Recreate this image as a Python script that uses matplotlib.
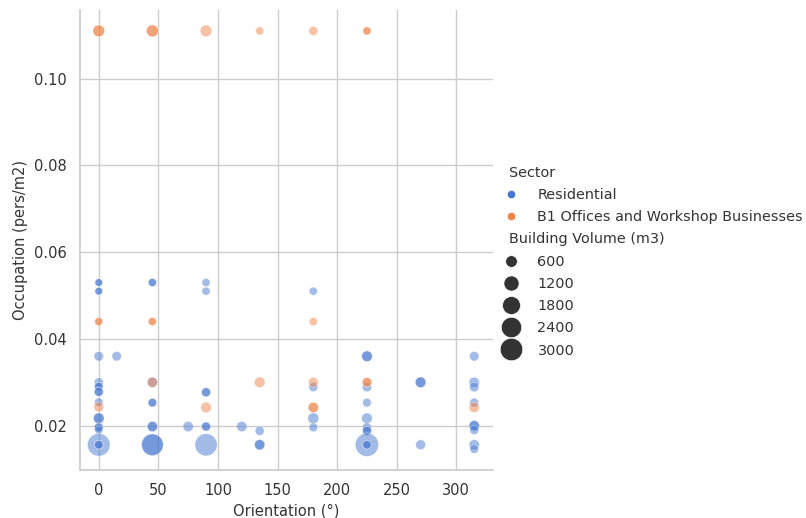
import numpy as np
import pandas as pd
import matplotlib
matplotlib.use("Agg")
import matplotlib.pyplot as plt
import seaborn as sns
from matplotlib.offsetbox import VPacker

# Residential buildings: orientation (deg), occupation (pers/m2), volume (m3)
res_orient = [0, 0, 0, 0, 0, 15, 0, 0, 0, 0, 0, 0, 0, 0, 0, 0, 0, 0, 0, 0,
              45, 45, 45, 45, 45, 45, 45, 45, 45,
              75,
              90, 90, 90, 90, 90, 90, 90,
              120,
              135, 135, 135,
              180, 180, 180, 180,
              225, 225, 225, 225, 225, 225, 225, 225, 225, 225, 225,
              270, 270, 270,
              315, 315, 315, 315, 315, 315, 315, 315, 315]
res_occ = [0.053, 0.053, 0.051, 0.051, 0.036, 0.036, 0.030, 0.029, 0.029, 0.0278, 0.0278,
           0.0254, 0.0217, 0.0217, 0.0196, 0.0196, 0.019, 0.0156, 0.0156, 0.0156,
           0.053, 0.053, 0.030, 0.0253, 0.0253, 0.0198, 0.0198, 0.0156, 0.0156,
           0.0198,
           0.053, 0.051, 0.0277, 0.0277, 0.0198, 0.0198, 0.0156,
           0.0198,
           0.0188, 0.0156, 0.0156,
           0.051, 0.0289, 0.0217, 0.0196,
           0.036, 0.036, 0.0289, 0.0253, 0.0217, 0.0196, 0.0188, 0.0188, 0.0156, 0.0156, 0.0156,
           0.030, 0.030, 0.0156,
           0.036, 0.030, 0.0289, 0.0253, 0.020, 0.020, 0.019, 0.0156, 0.0146]
res_vol = [100, 100, 100, 100, 300, 300, 250, 200, 200, 250, 250,
           200, 450, 450, 250, 250, 150, 3000, 200, 200,
           150, 150, 400, 200, 200, 400, 400, 2800, 2700,
           400,
           150, 150, 250, 250, 250, 250, 2900,
           400,
           250, 400, 400,
           150, 250, 500, 200,
           450, 450, 300, 200, 450, 250, 250, 250, 3200, 200, 200,
           450, 450, 350,
           300, 400, 300, 250, 400, 400, 250, 400, 200]

# B1 Offices and Workshop Businesses
b1_orient = [0, 0, 45, 45, 90, 135, 180, 225, 225,
             0, 0, 45, 45, 180,
             0, 45, 90, 135, 180, 180, 180, 225, 225, 315]
b1_occ = [0.111, 0.111, 0.111, 0.111, 0.111, 0.111, 0.111, 0.111, 0.111,
          0.044, 0.044, 0.044, 0.044, 0.044,
          0.0243, 0.030, 0.0242, 0.030, 0.030, 0.0242, 0.0242, 0.030, 0.030, 0.0242]
b1_vol = [600, 600, 650, 650, 600, 150, 250, 150, 150,
          150, 150, 150, 150, 150,
          350, 400, 450, 450, 350, 400, 400, 300, 300, 400]

subtitles = ["Sector", "Building Volume (m3)"]

df = pd.DataFrame({
    "Orientation (°)": res_orient + b1_orient,
    "Occupation (pers/m2)": res_occ + b1_occ,
    "Building Volume (m3)": res_vol + b1_vol,
    "Sector": ["Residential"] * len(res_orient)
              + ["B1 Offices and Workshop Businesses"] * len(b1_orient),
})

sns.set_theme(style="whitegrid", palette="muted", rc={
    "xtick.labelsize": 10.5, "ytick.labelsize": 10.5,
    "axes.labelsize": 10.5, "legend.fontsize": 10.4,
    "legend.title_fontsize": 10.4,
    "text.color": "0.2", "axes.labelcolor": "0.2",
    "xtick.color": "0.2", "ytick.color": "0.2",
})

fig = plt.figure(figsize=(8.06, 5.18), dpi=100)
ax = fig.add_axes([80 / 806, 48 / 518, 413 / 806, 460 / 518])
sns.scatterplot(data=df, x="Orientation (°)", y="Occupation (pers/m2)",
                hue="Sector", size="Building Volume (m3)", sizes=(30, 280),
                alpha=0.5, ax=ax)
sns.despine(ax=ax)
sns.move_legend(ax, "center left", bbox_to_anchor=(484 / 806, 0.495),
                bbox_transform=fig.transFigure, frameon=False,
                labelspacing=0.57)
leg = ax.get_legend()
for h in leg.legend_handles:
    if h is not None:
        h.set_alpha(1)

# subtitle rows: drop the handle area so the text sits to the left
for hpack in leg.findobj(VPacker)[0].get_children():
    draw_area, text_area = hpack.get_children()
    label = text_area.get_children()[0].get_text()
    if label in subtitles:
        draw_area.set_width(0)

fig.savefig("out.png", dpi=100)
